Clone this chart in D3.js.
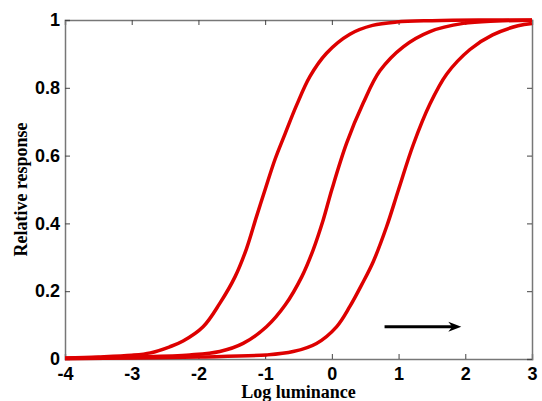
<!DOCTYPE html>
<html lang="en">
<head>
  <meta charset="UTF-8">
  <title>Relative response vs log luminance</title>
  <script src="https://d3js.org/d3.v7.min.js"></script>
  <style>
    body { margin: 0; background: #fff; }
  </style>
</head>
<body>
  <div id="chart"></div>
  <script>
    // tick values
    const xTicks = [-4, -3, -2, -1, 0, 1, 2, 3];
    const yTicks = [0, 0.2, 0.4, 0.6, 0.8, 1];

    // curves: [log luminance, relative response]
    const curveLeft = [
      [-4, 0.003], [-3.5, 0.006], [-3, 0.011], [-2.72, 0.018], [-2.43, 0.036], [-2.23, 0.053],
      [-1.93, 0.095], [-1.68, 0.164], [-1.45, 0.243], [-1.28, 0.325], [-1.13, 0.42],
      [-1, 0.5], [-0.85, 0.59], [-0.7, 0.665], [-0.53, 0.748], [-0.33, 0.833],
      [-0.08, 0.902], [0.27, 0.958], [0.61, 0.984], [0.97, 0.994], [1.5, 0.998],
      [2.2, 1], [3, 1]
    ];
    const curveMid = [
      [-4, 0.002], [-3, 0.006], [-2.13, 0.012], [-1.68, 0.022], [-1.33, 0.046],
      [-0.98, 0.095], [-0.7, 0.159], [-0.45, 0.243], [-0.28, 0.322], [-0.13, 0.41],
      [0, 0.5], [0.22, 0.636], [0.47, 0.755], [0.72, 0.85], [1.07, 0.921],
      [1.47, 0.966], [1.97, 0.99], [2.47, 0.997], [3, 0.999]
    ];
    const curveRight = [
      [-4, 0.001], [-3, 0.003], [-2, 0.006], [-0.98, 0.012], [-0.58, 0.022],
      [-0.23, 0.046], [0.07, 0.095], [0.27, 0.155], [0.45, 0.22], [0.62, 0.287],
      [0.82, 0.39], [1, 0.5], [1.22, 0.632], [1.47, 0.752], [1.72, 0.84],
      [2.07, 0.913], [2.41, 0.956], [2.79, 0.983], [3, 0.99]
    ];
    const curves = [curveLeft, curveMid, curveRight];

    // arrow showing the shift to the right
    const arrowFrom = [0.79, 0.095];
    const arrowTo = [1.94, 0.095];

    const width = 542, height = 401;
    const margin = { top: 20, right: 10, bottom: 42, left: 65 };

    const svg = d3.select("#chart").append("svg")
      .attr("width", width)
      .attr("height", height);

    const x = d3.scaleLinear().domain([-4, 3]).range([margin.left, width - margin.right]);
    const y = d3.scaleLinear().domain([0, 1]).range([height - margin.bottom, margin.top]);

    const fmt = d => String(d);

    // box axes with ticks pointing inward
    const gx = svg.append("g").attr("transform", `translate(0,${y(0)})`)
      .call(d3.axisBottom(x).tickValues(xTicks).tickSize(-5).tickPadding(8).tickFormat(fmt));
    const gxTop = svg.append("g").attr("transform", `translate(0,${y(1)})`)
      .call(d3.axisTop(x).tickValues(xTicks).tickSize(-5).tickFormat(""));
    const gy = svg.append("g").attr("transform", `translate(${x(-4)},0)`)
      .call(d3.axisLeft(y).tickValues(yTicks).tickSize(-5).tickPadding(5).tickFormat(fmt));
    const gyRight = svg.append("g").attr("transform", `translate(${x(3)},0)`)
      .call(d3.axisRight(y).tickValues(yTicks).tickSize(-5).tickFormat(""));

    [gx, gxTop, gy, gyRight].forEach(g => {
      g.select(".domain").attr("stroke", "#777").attr("stroke-width", 1.5);
      g.selectAll(".tick line").attr("stroke", "#444");
      g.selectAll(".tick text")
        .attr("font-family", "'Liberation Sans', Arial, sans-serif")
        .attr("font-weight", "bold")
        .attr("font-size", 18)
        .attr("fill", "#000");
    });

    // response curves
    const line = d3.line()
      .x(d => x(d[0]))
      .y(d => y(d[1]))
      .curve(d3.curveCatmullRom.alpha(0.5));

    svg.append("g").selectAll("path")
      .data(curves)
      .join("path")
      .attr("d", line)
      .attr("fill", "none")
      .attr("stroke", "#dd0000")
      .attr("stroke-width", 3.5)
      .attr("stroke-linejoin", "round");

    // arrow
    const ax = x(arrowTo[0]), ay = y(arrowTo[1]);
    svg.append("line")
      .attr("x1", x(arrowFrom[0])).attr("y1", y(arrowFrom[1]))
      .attr("x2", ax - 8).attr("y2", ay)
      .attr("stroke", "#000").attr("stroke-width", 3);
    svg.append("path")
      .attr("d", `M${ax},${ay} L${ax - 13},${ay - 5} L${ax - 9},${ay} L${ax - 13},${ay + 5} Z`)
      .attr("fill", "#000");

    // axis titles
    svg.append("text")
      .attr("x", (x(-4) + x(3)) / 2)
      .attr("y", 398)
      .attr("text-anchor", "middle")
      .attr("font-family", "'Liberation Serif', 'Times New Roman', serif")
      .attr("font-weight", "bold")
      .attr("font-size", 18)
      .attr("fill", "#000")
      .text("Log luminance");

    svg.append("text")
      .attr("transform", `translate(27,${y(0.5)}) rotate(-90)`)
      .attr("text-anchor", "middle")
      .attr("font-family", "'Liberation Serif', 'Times New Roman', serif")
      .attr("font-weight", "bold")
      .attr("font-size", 18)
      .attr("fill", "#000")
      .text("Relative response");
  </script>
</body>
</html>
